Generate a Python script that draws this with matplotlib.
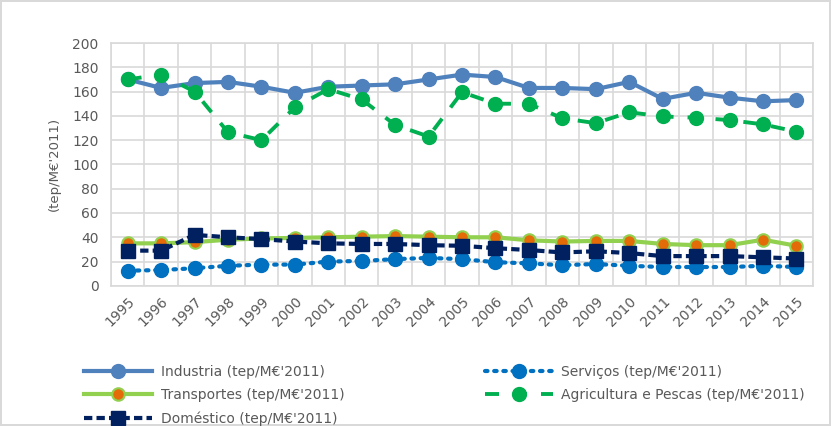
import matplotlib
matplotlib.use("Agg")
import matplotlib.pyplot as plt
import matplotlib.transforms as mtransforms
import numpy as np

years = [str(y) for y in range(1995, 2016)]
industria = [170, 163, 167, 168, 164, 159, 164, 165, 166, 170, 174, 172, 163, 163, 162, 168, 154, 159, 155, 152, 153]
servicos = [12.5, 13, 14.5, 16.5, 17.5, 17.5, 20, 20.5, 22, 23, 22, 19.5, 18.5, 17, 18, 16.5, 15.5, 15.5, 15.5, 16.5, 15.5]
transportes = [35, 35, 36, 38, 39, 39.5, 40, 40.5, 41, 40.5, 40, 40, 37.5, 36.5, 37, 37, 34.5, 33.5, 33.5, 38, 33]
agricultura = [170, 174, 160, 126.5, 120, 147, 162, 153.5, 132.5, 123, 159.5, 150, 150, 138, 134, 143, 139.5, 138.5, 136.5, 133, 127]
domestico = [29, 29, 42, 40, 38.5, 36.5, 35, 34.5, 34.5, 33.5, 33, 31, 29.5, 27.5, 28.5, 27, 24.5, 24.5, 24.5, 23.5, 22.5]

grey = "#595959"
plt.rcParams['font.family'] = ['DejaVu Sans']

fig = plt.figure(figsize=(8.31, 4.26), dpi=100)
fig.patch.set_edgecolor("#d9d9d9")
fig.patch.set_linewidth(1.5)
ax = fig.add_axes([0.1335, 0.329, 0.845, 0.57])

x = np.arange(len(years))
l1, = ax.plot(x, industria, color="#4F81BD", lw=3, marker="o", ms=10,
              label="Industria (tep/M€'2011)")
l2, = ax.plot(x, servicos, color="#0070C0", lw=3, ls=(0, (0.6, 1.6)),
              dash_capstyle="round", marker="o", ms=10,
              label="Serviços (tep/M€'2011)")
l3, = ax.plot(x, transportes, color="#92D050", lw=3, marker="o", ms=9,
              mfc="#E36C09", mec="#92D050", mew=1.5,
              label="Transportes (tep/M€'2011)")
l4, = ax.plot(x, agricultura, color="#00B050", lw=2.8, ls=(0, (3.6, 3.6)),
              marker="o", ms=10, label="Agricultura e Pescas (tep/M€'2011)")
l5, = ax.plot(x, domestico, color="#002060", lw=3, ls=(0, (2, 1)),
              marker="s", ms=10, label="Doméstico (tep/M€'2011)")

ax.set_xlim(-0.5, len(years) - 0.5)
ax.set_ylim(0, 200)
ax.set_yticks(np.arange(0, 201, 20))
ax.set_xticks(x)
ax.set_xticklabels(years, rotation=45, ha="right", rotation_mode="anchor")
shift = mtransforms.ScaledTranslation(-0.05, 0, fig.dpi_scale_trans)
for lab in ax.get_xticklabels():
    lab.set_transform(lab.get_transform() + shift)
ax.set_xticks(np.arange(-0.5, len(years), 1), minor=True)
ax.tick_params(axis="both", which="both", length=0, colors=grey, labelsize=10)
ax.tick_params(axis="x", pad=6)
ax.tick_params(axis="y", pad=9)
ax.grid(True, which="major", axis="y", color="#d9d9d9", lw=1.2)
ax.grid(True, which="minor", axis="x", color="#d9d9d9", lw=1.2)
ax.set_axisbelow(True)
for s in ax.spines.values():
    s.set_color("#d9d9d9")
    s.set_linewidth(1.2)
ax.set_ylabel("(tep/M€'2011)", color=grey, fontsize=9.5, labelpad=8)

handles = [l1, l3, l5, l2, l4]
fig.legend(handles=handles, loc="upper left", bbox_to_anchor=(0.093, 0.16),
           ncol=2, frameon=False, fontsize=10, handlelength=4.9,
           columnspacing=10.1, labelspacing=0.68, handletextpad=0.6,
           labelcolor=grey, borderpad=0)

fig.savefig("out.png", dpi=100)
